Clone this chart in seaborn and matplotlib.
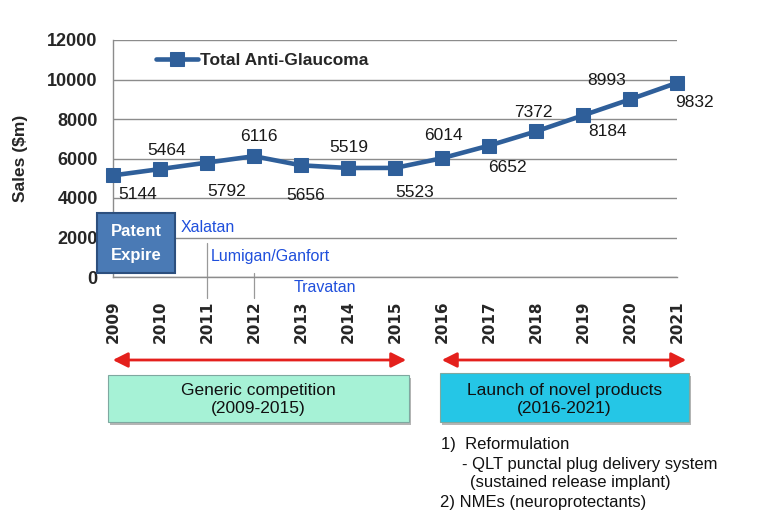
import matplotlib
matplotlib.use("Agg")
import matplotlib.pyplot as plt
import matplotlib.transforms as mtransforms
from matplotlib.patches import Rectangle
import seaborn as sns
import pandas as pd

# data
years = [2009, 2010, 2011, 2012, 2013, 2014, 2015, 2016, 2017, 2018, 2019, 2020, 2021]
sales = [5144, 5464, 5792, 6116, 5656, 5519, 5523, 6014, 6652, 7372, 8184, 8993, 9832]
# label offsets (pixels, right / down) to mimic the Excel placement
label_dx = [25, 7, 20, 5, 5, 1, 20, 1, 18, -3, 25, -23, 17]
label_dy = [19, -19, 29, -20, 30, -20, 25, -23, 22, -19, 16, -19, 20]
y_ticks = [0, 2000, 4000, 6000, 8000, 10000, 12000]
series_name = "Total Anti-Glaucoma"

W, H = 776, 522
LINE = "#2f5f9a"


def fx(px):
    return px / W


def fy(py):
    return 1 - py / H


sns.set_style("white")
plt.rcParams["font.family"] = ["Liberation Sans", "DejaVu Sans"]

df = pd.DataFrame({"year": years, "sales": sales})

fig = plt.figure(figsize=(W / 100, H / 100), dpi=100)
ax = fig.add_axes([fx(113), fy(277), fx(677) - fx(113), fy(40) - fy(277)])

sns.lineplot(data=df, x="year", y="sales", ax=ax, color=LINE, linewidth=3.3,
             marker="s", markersize=9.5, markeredgecolor=LINE, label=series_name,
             clip_on=False, zorder=5)

ax.set_xlim(2009, 2021)
ax.set_ylim(0, 12000)
ax.set_yticks(y_ticks)
ax.set_yticklabels([str(v) for v in y_ticks], fontsize=13, fontweight="bold")
ax.set_xticks(years)
ax.set_xticklabels([str(y) for y in years], rotation=90, fontsize=11,
                   fontweight="bold", family="DejaVu Sans")
ax.tick_params(axis="x", length=0, pad=17)
ax.tick_params(axis="y", length=0, pad=11)
ax.set_xlabel("")
ax.set_ylabel("Sales ($m)", fontsize=12.5, fontweight="bold")
ax.yaxis.set_label_coords((28 - 113) / 564, (277 - 158) / 237)
ax.grid(axis="y", color="#8c8c8c", linewidth=1)
for s in ["top", "right"]:
    ax.spines[s].set_visible(False)
for s in ["left", "bottom"]:
    ax.spines[s].set_color("#8c8c8c")
    ax.spines[s].set_linewidth(1)

# data labels
for x, v, dx, dy in zip(years, sales, label_dx, label_dy):
    ax.annotate(str(v), (x, v), xytext=(dx * 0.72, -dy * 0.72),
                textcoords="offset points", ha="center", va="center",
                fontsize=12.5, color="#1a1a1a", zorder=6)

leg = ax.legend(loc="center left", bbox_to_anchor=(fx(156), fy(60)),
                bbox_transform=fig.transFigure, frameon=False,
                handlelength=2.4, handletextpad=0.15, borderpad=0,
                borderaxespad=0, prop={"size": 12.5, "weight": "bold"})

# product annotations
blue = "#1f4fdc"
fig.text(fx(181), fy(227), "Xalatan", color=blue, fontsize=11.5, va="center")
fig.text(fx(211), fy(257), "Lumigan/Ganfort", color=blue, fontsize=11.5, va="center")
fig.text(fx(294), fy(287), "Travatan", color=blue, fontsize=11.5, va="center")
trans = mtransforms.blended_transform_factory(ax.transData, fig.transFigure)
ax.plot([2011, 2011], [fy(243), fy(298)], color="#999999", lw=0.9,
        transform=trans, clip_on=False)
ax.plot([2012, 2012], [fy(273), fy(298)], color="#999999", lw=0.9,
        transform=trans, clip_on=False)

# patent expire box
fig.patches.append(Rectangle((fx(97), fy(273)), fx(175) - fx(97), fy(213) - fy(273),
                             transform=fig.transFigure, facecolor="#4a7ab5",
                             edgecolor="#2c4f7e", linewidth=1.5, zorder=8))
fig.text(fx(136), fy(232), "Patent", color="white", fontsize=12, fontweight="bold",
         ha="center", va="center", zorder=9)
fig.text(fx(136), fy(256), "Expire", color="white", fontsize=12, fontweight="bold",
         ha="center", va="center", zorder=9)

# red double arrows
for x0, x1 in [(110, 409), (439, 689)]:
    fig.patches.append(matplotlib.patches.FancyArrowPatch(
        (fx(x0), fy(360)), (fx(x1), fy(360)), transform=fig.transFigure,
        arrowstyle="<|-|>,head_length=6,head_width=3", color="#e4201c",
        linewidth=2, mutation_scale=1.5))

# phase boxes
for (x0, x1, y0, y1, col, l1, l2) in [
        (108, 409, 375, 422, "#a6f2d6", "Generic competition", "(2009-2015)"),
        (440, 689, 373, 422, "#25c6e6", "Launch of novel products", "(2016-2021)")]:
    fig.patches.append(Rectangle((fx(x0) + 0.003, fy(y1) - 0.005), fx(x1) - fx(x0),
                                 fy(y0) - fy(y1), transform=fig.transFigure,
                                 facecolor="#b5b5b5", edgecolor="none", zorder=1))
    fig.patches.append(Rectangle((fx(x0), fy(y1)), fx(x1) - fx(x0), fy(y0) - fy(y1),
                                 transform=fig.transFigure, facecolor=col,
                                 edgecolor="#7fa8a0", linewidth=0.8, zorder=2))
    cx = fx((x0 + x1) / 2)
    fig.text(cx, fy(390), l1, ha="center", va="center", fontsize=12.5, color="#111111")
    fig.text(cx, fy(409), l2, ha="center", va="center", fontsize=12.5, color="#111111")

# notes
notes = [(441, 445, "1)  Reformulation"),
         (462, 465, "- QLT punctal plug delivery system"),
         (470, 483, "(sustained release implant)"),
         (440, 502, "2) NMEs (neuroprotectants)")]
for x, y, t in notes:
    fig.text(fx(x), fy(y), t, ha="left", va="center", fontsize=12, color="#111111")

fig.savefig("out.png", dpi=100)
plt.close(fig)
